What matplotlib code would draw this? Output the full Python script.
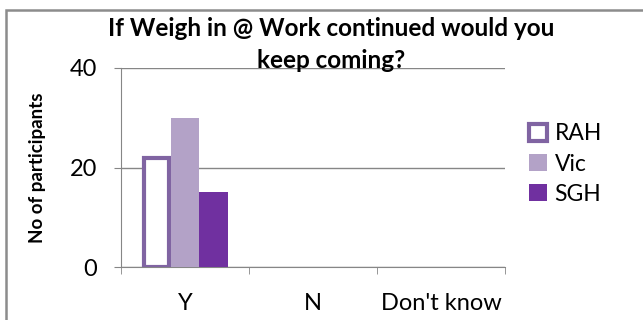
import matplotlib.pyplot as plt
from matplotlib.patches import Patch, Rectangle

# survey answers per hospital
answers = ["Y", "N", "Don't know"]
rah = [22, 0, 0]
vic = [30, 0, 0]
sgh = [15, 0, 0]
y_ticks = [0, 20, 40]

plt.rcParams['font.family'] = ['Lato', 'DejaVu Sans']

W, H = 643, 320
fig = plt.figure(figsize=(W / 100, H / 100), dpi=100)

# outer chart frame
fig.patches.append(Rectangle((6 / W, -0.1), 1.2, (H - 10) / H + 0.1,
                             transform=fig.transFigure, fill=False,
                             edgecolor="#8c8c8c", linewidth=1.8))

ax = fig.add_axes([121 / W, (H - 267) / H, 384 / W, 199 / H])

x = list(range(len(answers)))
bw = 0.222
# no outline for empty bars
rah_lw = [3 if v > 0 else 0 for v in rah]
ax.bar([i - bw for i in x], rah, width=bw - 0.03, color="white",
       edgecolor="#8064a2", linewidth=rah_lw, zorder=3, label="RAH")
ax.bar(x, vic, width=bw, color="#b3a2c7", zorder=3, label="Vic")
ax.bar([i + bw for i in x], sgh, width=bw, color="#7030a0", zorder=3, label="SGH")

ax.set_xlim(-0.5, 2.5)
ax.set_ylim(0, 40)
ax.set_yticks(y_ticks)
ax.set_yticklabels([str(v) for v in y_ticks], fontsize=17)
ax.set_xticks(x)
ax.set_xticklabels(answers, fontsize=17)
ax.set_xticks([-0.5, 0.5, 1.5, 2.5], minor=True)
ax.tick_params(axis="x", which="major", length=0, pad=19)
ax.tick_params(axis="x", which="minor", length=5, color="#868686")
ax.tick_params(axis="y", length=5, color="#868686", pad=12)
ax.grid(axis="y", color="#868686", linewidth=1)
ax.set_axisbelow(True)
for side in ["top", "right"]:
    ax.spines[side].set_visible(False)
for side in ["left", "bottom"]:
    ax.spines[side].set_color("#868686")

ax.set_ylabel("No of participants", fontsize=13.5, fontweight="bold", labelpad=17)

fig.text(331 / W, 1 - 28 / H, "If Weigh in @ Work continued would you",
         ha="center", va="center", fontsize=17.5, fontweight="bold")
fig.text(331 / W, 1 - 61 / H, "keep coming?",
         ha="center", va="center", fontsize=17.5, fontweight="bold")

handles = [Patch(facecolor="white", edgecolor="#8064a2", linewidth=3, label="RAH"),
           Patch(facecolor="#b3a2c7", label="Vic"),
           Patch(facecolor="#7030a0", label="SGH")]
fig.legend(handles=handles, loc="upper left", bbox_to_anchor=(518 / W, 1 - 112 / H),
           frameon=False, fontsize=16.5, handlelength=0.75, handleheight=0.75,
           handletextpad=0.35, labelspacing=0.4, borderpad=0)

fig.savefig("out.png", dpi=100)
